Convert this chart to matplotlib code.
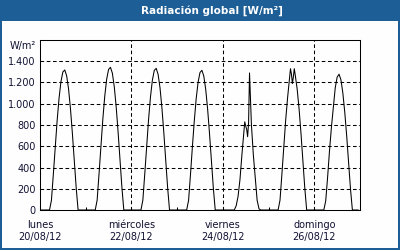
import matplotlib
matplotlib.use("Agg")
import matplotlib.pyplot as plt
from matplotlib.patches import Rectangle
import numpy as np

# ---- data (W/m², hourly readings, days from 20/08/12 00:00) ----
hours = list(range(24))
mon = [0, 0, 0, 0, 0, 0, 91, 335, 596, 842, 1052, 1208, 1299, 1318, 1263, 1138, 952, 721, 467, 209, 0, 0, 0, 0]
tue = [0, 0, 0, 0, 0, 0, 93, 342, 607, 858, 1072, 1231, 1323, 1343, 1287, 1159, 970, 734, 476, 213, 0, 0, 0, 0]
wed = [0, 0, 0, 0, 0, 0, 93, 339, 603, 852, 1064, 1222, 1314, 1333, 1277, 1151, 963, 729, 472, 211, 0, 0, 0, 0]
thu = [0, 0, 0, 0, 0, 0, 90, 333, 594, 838, 1048, 1203, 1294, 1315, 1260, 1135, 950, 718, 465, 207, 0, 0, 0, 0]
fri_hours = [0, 1, 2, 3, 4, 5, 6, 7, 8, 9, 10, 11, 11.5, 12, 12.5, 13, 13.5, 14, 14.5, 15, 16, 17, 18, 19, 20, 21, 22, 23]
fri = [0, 0, 0, 0, 0, 0, 0, 40, 130, 290, 520, 720, 830, 790, 760, 690, 820, 1290, 1050, 800, 520, 300, 90, 10, 0, 0, 0, 0]
sat_hours = [0, 1, 2, 3, 4, 5, 6, 7, 8, 9, 10, 11, 11.5, 12, 12.5, 13, 13.5, 14, 15, 16, 17, 18, 19, 20, 21, 22, 23]
sat = [0, 0, 0, 0, 0, 0, 92, 338, 600, 850, 1060, 1240, 1330, 1280, 1190, 1250, 1330, 1270, 1140, 955, 725, 470, 210, 0, 0, 0, 0]
sun = [0, 0, 0, 0, 0, 0, 85, 310, 560, 780, 960, 1150, 1250, 1278, 1225, 1100, 920, 700, 450, 200, 0, 0, 0, 0]

day_names = ["lunes", "miércoles", "viernes", "domingo"]
day_dates = ["20/08/12", "22/08/12", "24/08/12", "26/08/12"]
y_ticks = [0, 200, 400, 600, 800, 1000, 1200, 1400]
y_labels = ["0", "200", "400", "600", "800", "1.000", "1.200", "1.400"]

# ---- assemble time series ----
day_series = [(hours, mon), (hours, tue), (hours, wed), (hours, thu),
              (fri_hours, fri), (sat_hours, sat), (hours, sun)]
t, v = [], []
for d, (hh, vals) in enumerate(day_series):
    for h, val in zip(hh, vals):
        t.append(d + h / 24.0)
        v.append(val)

BLUE = "#1d5e97"
TXT = "#111133"
plt.rcParams["font.family"] = ["DejaVu Sans"]

fig = plt.figure(figsize=(4, 2.5), dpi=100, facecolor=BLUE)
fig.patches.append(Rectangle((2 / 400, 2 / 250), 396 / 400, 227 / 250,
                             transform=fig.transFigure, facecolor="#fdfefd",
                             edgecolor="none", zorder=-5))
fig.text(212 / 400, 1 - 10.5 / 250, "Radiación global [W/m²]", color="white",
         fontsize=7.5, fontweight="bold", ha="center", va="center")

ax = fig.add_axes([40 / 400, 40 / 250, 320 / 400, 170 / 250])
ax.set_zorder(2)
ax.set_facecolor("#fdfefd")
ax.plot(t, v, color="black", lw=0.75, zorder=3)

ax.set_xlim(0, 7)
ax.set_ylim(0, 1600)
ax.set_yticks(y_ticks)
ax.set_yticklabels(y_labels)
ax.set_xticks([0, 2, 4, 6])
ax.set_xticklabels([f"{n}\n{d}" for n, d in zip(day_names, day_dates)])
ax.set_xticks([1, 3, 5, 7], minor=True)

ax.tick_params(axis="y", length=0, pad=3, labelsize=7, labelcolor=TXT)
ax.tick_params(axis="x", which="major", direction="in", length=2.2, pad=7.5,
               labelsize=7, labelcolor=TXT, width=0.75)
ax.tick_params(axis="x", which="minor", direction="in", length=2.2, width=0.75)

for y in y_ticks[1:]:
    ax.axhline(y, color="black", lw=0.75, dashes=(3.5, 2.5), zorder=1)
for x in [2, 4, 6]:
    ax.axvline(x, color="black", lw=0.75, dashes=(3.5, 2.5), zorder=1)

for s in ax.spines.values():
    s.set_linewidth(0.75)
    s.set_color("black")

fig.text(36 / 400, 1 - 46.5 / 250, "W/m²", fontsize=7, color=TXT,
         ha="right", va="center")

fig.savefig("out.png", dpi=100, facecolor=BLUE)
